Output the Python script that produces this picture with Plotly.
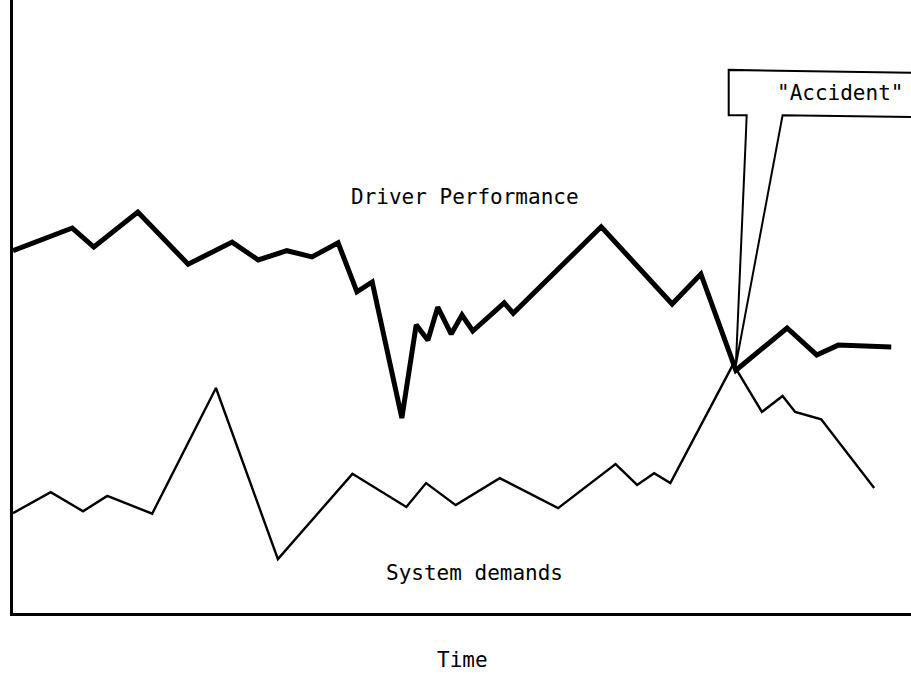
import plotly.graph_objects as go

# Driver performance (thick line), time vs level
perf_t = [0, 6.6, 9.0, 13.9, 19.5, 24.4, 27.3, 30.5, 33.3, 36.2, 38.3, 40.0,
          43.3, 44.9, 46.2, 47.3, 48.8, 50.0, 51.2, 54.7, 55.7, 65.5, 73.4,
          76.6, 80.5, 86.2, 89.5, 91.9, 97.8]
perf_v = [59.1, 62.8, 59.7, 65.4, 56.9, 60.5, 57.6, 59.1, 58.1, 60.4, 52.4, 54.0,
          31.8, 47.0, 44.5, 49.9, 45.5, 48.6, 46.0, 50.6, 48.9, 63.0, 50.4,
          55.3, 39.6, 46.5, 42.1, 43.7, 43.4]

# System demands (thin line)
dem_t = [0, 4.2, 7.8, 10.5, 15.5, 22.6, 29.5, 37.8, 43.8, 46.0, 49.3, 54.2,
         60.7, 67.1, 69.5, 71.4, 73.2, 80.2, 83.4, 85.7, 87.1, 90.0, 95.9]
dem_v = [16.3, 19.7, 16.6, 19.1, 16.2, 36.7, 8.8, 22.7, 17.3, 21.2, 17.6, 22.0,
         17.1, 24.3, 20.9, 22.8, 21.2, 40.6, 32.8, 35.4, 32.8, 31.6, 20.4]

# "Accident" callout outline: box edge and the pointer to the crossing point
callout_x = [101, 79.7, 79.7, 81.7, 81.6, 80.5, 85.7, 101]
callout_y = [88.1, 88.6, 81.2, 81.2, 77.5, 40.5, 81.2, 80.9]

FONT = "DejaVu Sans Mono"

fig = go.Figure()
fig.add_trace(go.Scatter(x=perf_t, y=perf_v, mode="lines", name="Driver Performance",
                         line=dict(color="black", width=5)))
fig.add_trace(go.Scatter(x=dem_t, y=dem_v, mode="lines", name="System demands",
                         line=dict(color="black", width=2.4)))

path = "M " + " L ".join(f"{a},{b}" for a, b in zip(callout_x, callout_y))
fig.add_shape(type="path", path=path, xref="x", yref="y",
              line=dict(color="black", width=2))

fig.add_annotation(x=92.1, y=84.9, text='"Accident"', showarrow=False,
                   font=dict(family=FONT, size=21, color="black"))
fig.add_annotation(x=50.3, y=67.9, text="Driver Performance", showarrow=False,
                   font=dict(family=FONT, size=21, color="black"))
fig.add_annotation(x=51.4, y=6.5, text="System demands", showarrow=False,
                   font=dict(family=FONT, size=21, color="black"))
fig.add_annotation(x=0.5, y=-0.077, xref="paper", yref="paper", yanchor="middle",
                   text="Time", showarrow=False,
                   font=dict(family=FONT, size=21, color="black"))

axis = dict(range=[0, 100], showgrid=False, zeroline=False, showticklabels=False,
            ticks="", showline=True, linecolor="black", linewidth=3)
fig.update_xaxes(**axis)
fig.update_yaxes(**axis)

fig.update_layout(
    width=911, height=676,
    margin=dict(l=13, r=0, t=0, b=63),
    paper_bgcolor="white", plot_bgcolor="white",
    showlegend=False,
)

# drop the browser's default page margin so the figure sits at the corner
fig.write_html("out.html", config={"displayModeBar": False},
               post_script="document.body.style.margin='0';")
